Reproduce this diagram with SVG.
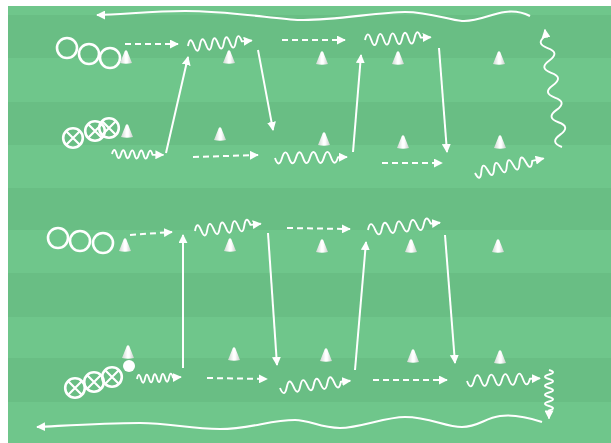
<svg xmlns="http://www.w3.org/2000/svg" xmlns:xlink="http://www.w3.org/1999/xlink" width="611" height="443" viewBox="0 0 611 443">
<defs>
<linearGradient id="cg" x1="0" y1="0" x2="1" y2="0">
<stop offset="0" stop-color="#cdd6d0"/><stop offset="0.45" stop-color="#ffffff"/><stop offset="0.6" stop-color="#ffffff"/><stop offset="1" stop-color="#c6cfc9"/>
</linearGradient>
<path id="cone" d="M-6,6 L-1.2,-6 Q0,-7.5 1.2,-6 L6,6 Q0,7.5 -6,6 Z" fill="url(#cg)"/>
<g id="op"><circle r="10" fill="none" stroke="#fff" stroke-width="2.6"/></g>
<g id="xp"><circle r="9.8" fill="none" stroke="#fff" stroke-width="2.6"/><path d="M-7,-7 L7,7 M-7,7 L7,-7" stroke="#fff" stroke-width="2.2"/></g>
<marker id="ah" viewBox="0 0 10 10" refX="9" refY="5" markerWidth="9" markerHeight="9" markerUnits="userSpaceOnUse" orient="auto"><path d="M0,0 L10,5 L0,10 z" fill="#fff"/></marker>
</defs>
<style>
.ln{fill:none;stroke:#fff;stroke-width:2;marker-end:url(#ah)}
.ds{stroke-dasharray:6 4}
.wv{fill:none;stroke:#fff;stroke-width:1.9;stroke-linejoin:round;marker-end:url(#ah)}
.bw{fill:none;stroke:#fff;stroke-width:2.1;marker-end:url(#ah)}
.dk{fill:#69be84}
</style>
<rect width="611" height="443" fill="#fff"/>
<rect x="8" y="6" width="603" height="437" fill="#6fc68b"/>
<rect class="dk" x="8" y="15" width="603" height="43"/>
<rect class="dk" x="8" y="102" width="603" height="43"/>
<rect class="dk" x="8" y="188" width="603" height="42"/>
<rect class="dk" x="8" y="273" width="603" height="44"/>
<rect class="dk" x="8" y="358" width="603" height="44"/>

<g id="connectors">
<!-- top section -->
<path class="bw" d="M530,16 C522,12 512,11 505,12 C490,14 478,22 462,21 C448,20 430,12 405,12 C380,12 330,21 300,20 C275,19 230,11 185,11 C150,11 120,15 97,15"/>
<path class="ln ds" d="M125,44 L178,44"/>
<path class="wv" transform="translate(188,46) rotate(-4.9)" d="M0,0 q3,-11 6,0 t6,0 t6,0 t6,0 t6,0 t6,0 t6,0 t6,0 t6,0 l10,0"/>
<path class="ln" d="M166,153 L188,57"/>
<path class="ln" d="M258,50 L273,130"/>
<path class="wv" transform="translate(112,154) rotate(1)" d="M0,0 q2.25,-8 4.5,0 t4.5,0 t4.5,0 t4.5,0 t4.5,0 t4.5,0 t4.5,0 t4.5,0 t4.5,0 l11,0"/>
<path class="ln ds" d="M193,157 L258,155"/>
<path class="wv" transform="translate(275,158) rotate(-0.7)" d="M0,0 q3.5,11 7,0 t7,0 t7,0 t7,0 t7,0 t7,0 t7,0 t7,0 t7,0 l9,0"/>
<path class="ln" d="M353,152 L361,55"/>
<path class="ln ds" d="M282,40 L345,40"/>
<path class="wv" transform="translate(365,40) rotate(-2.4)" d="M0,0 q3.1,-11 6.2,0 t6.2,0 t6.2,0 t6.2,0 t6.2,0 t6.2,0 t6.2,0 t6.2,0 t6.2,0 l10,0"/>
<path class="ln" d="M439,48 L447,152"/>
<path class="ln ds" d="M382,163 L442,163"/>
<path class="wv" transform="translate(475,173) rotate(-12)" d="M0,0 q3.25,11 6.5,0 t6.5,0 t6.5,0 t6.5,0 t6.5,0 t6.5,0 t6.5,0 t6.5,0 t6.5,0 l11.7,0"/>
<path class="wv" transform="translate(562,147) rotate(-98.3)" d="M0,0 q6.25,-12 12.5,0 t12.5,0 t12.5,0 t12.5,0 t12.5,0 t12.5,0 t12.5,0 t12.5,0 t12.5,0 l6,0"/>
<!-- bottom section -->
<path class="ln ds" d="M130,235 L172,232"/>
<path class="wv" transform="translate(195,231) rotate(-6.3)" d="M0,0 q3.1,-11 6.2,0 t6.2,0 t6.2,0 t6.2,0 t6.2,0 t6.2,0 t6.2,0 t6.2,0 t6.2,0 l10.4,0"/>
<path class="ln" d="M183,368 L183,235"/>
<path class="ln" d="M268,233 L277,365"/>
<path class="ln ds" d="M287,228 L350,229"/>
<path class="wv" transform="translate(368,230) rotate(-5.8)" d="M0,0 q3.5,-11 7,0 t7,0 t7,0 t7,0 t7,0 t7,0 t7,0 t7,0 t7,0 l9.4,0"/>
<path class="ln" d="M355,370 L366,242"/>
<path class="ln" d="M445,235 L455,363"/>
<path class="wv" transform="translate(137,379) rotate(-2.4)" d="M0,0 q2,-8 4,0 t4,0 t4,0 t4,0 t4,0 t4,0 t4,0 t4,0 t4,0 l8,0"/>
<path class="ln ds" d="M207,378 L267,379"/>
<path class="wv" transform="translate(280,388) rotate(-5.9)" d="M0,0 q3.4,11 6.8,0 t6.8,0 t6.8,0 t6.8,0 t6.8,0 t6.8,0 t6.8,0 t6.8,0 t6.8,0 l9.4,0"/>
<path class="ln ds" d="M373,380 L447,380"/>
<path class="wv" transform="translate(467,381) rotate(-2.1)" d="M0,0 q3.5,11 7,0 t7,0 t7,0 t7,0 t7,0 t7,0 t7,0 t7,0 t7,0 l10,0"/>
<path class="wv" transform="translate(549,370) rotate(90)" d="M0,0 q2.25,-8 4.5,0 t4.5,0 t4.5,0 t4.5,0 t4.5,0 t4.5,0 t4.5,0 t4.5,0 t4.5,0 l8,0"/>
<path class="bw" d="M542,422 C530,418 515,414 500,416 C485,418 478,427 462,427 C445,427 430,417 405,417 C385,417 360,428 340,428 C320,428 310,420 295,420 C270,420 250,429 220,429 C190,429 170,423 140,423 C100,423 60,426 37,427"/>
</g>

<g id="team-o-top"><use href="#op" x="67" y="48"/><use href="#op" x="89" y="54"/><use href="#op" x="110" y="58"/></g>
<g id="team-x-top"><use href="#xp" x="73" y="138"/><use href="#xp" x="95" y="131"/><use href="#xp" x="109" y="128"/></g>
<g id="team-o-bottom"><use href="#op" x="58" y="238"/><use href="#op" x="80" y="241"/><use href="#op" x="103" y="243"/></g>
<g id="team-x-bottom"><use href="#xp" x="75" y="388"/><use href="#xp" x="94" y="382"/><use href="#xp" x="112" y="377"/></g>
<g id="ball"><circle cx="129" cy="366" r="6" fill="#fff"/></g>

<g id="cones-top">
<use href="#cone" x="126" y="57"/><use href="#cone" x="229" y="57"/><use href="#cone" x="322" y="58"/><use href="#cone" x="398" y="58"/><use href="#cone" x="499" y="58"/>
<use href="#cone" x="127" y="131"/><use href="#cone" x="220" y="134"/><use href="#cone" x="324" y="139"/><use href="#cone" x="403" y="142"/><use href="#cone" x="500" y="142"/>
</g>
<g id="cones-bottom">
<use href="#cone" x="125" y="245"/><use href="#cone" x="230" y="245"/><use href="#cone" x="322" y="246"/><use href="#cone" x="411" y="246"/><use href="#cone" x="498" y="246"/>
<use href="#cone" x="128" y="352"/><use href="#cone" x="234" y="354"/><use href="#cone" x="326" y="355"/><use href="#cone" x="413" y="356"/><use href="#cone" x="500" y="357"/>
</g>
</svg>
